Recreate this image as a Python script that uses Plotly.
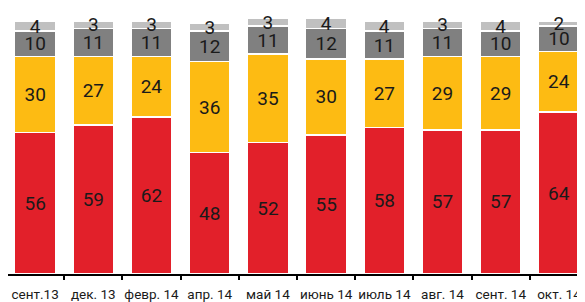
import plotly.graph_objects as go

categories = ["сент.13", "дек. 13", "февр. 14", "апр. 14", "май 14",
              "июнь 14", "июль 14", "авг. 14", "сент. 14", "окт. 14"]
red_vals = [56, 59, 62, 48, 52, 55, 58, 57, 57, 64]
orange_vals = [30, 27, 24, 36, 35, 30, 27, 29, 29, 24]
dgray_vals = [10, 11, 11, 12, 11, 12, 11, 11, 10, 10]
lgray_vals = [4, 3, 3, 3, 3, 4, 4, 3, 4, 2]

series = [
    (red_vals, "#E2202A"),
    (orange_vals, "#FDBB13"),
    (dgray_vals, "#808080"),
    (lgray_vals, "#C0C0C0"),
]

FONT = "Roboto, Noto Sans, sans-serif"

fig = go.Figure()
for vals, col in series:
    fig.add_trace(go.Bar(
        x=categories, y=vals,
        marker=dict(color=col, line=dict(color="white", width=1.5)),
        text=[str(v) for v in vals],
        textposition="inside",
        insidetextanchor="middle",
        textangle=0,
        constraintext="none",
        insidetextfont=dict(family=FONT, size=19, color="#1a1a1a"),
        cliponaxis=False,
        hoverinfo="skip",
    ))

fig.update_layout(
    barmode="stack",
    bargap=0.295,
    width=577, height=294,
    margin=dict(l=0, r=0, t=8, b=28),
    plot_bgcolor="white", paper_bgcolor="white",
    showlegend=False,
    xaxis=dict(
        range=[-0.466, 9.448],
        automargin=False,
        tickangle=0,
        showline=True, linecolor="#000", linewidth=1.5,
        ticks="outside", tickson="boundaries", ticklen=4, tickwidth=1.5, tickcolor="#000",
        ticklabelstandoff=7,
        tickfont=dict(family=FONT, size=13.5, color="#1a1a1a"),
        showgrid=False, zeroline=False,
    ),
    yaxis=dict(
        range=[0, 102], visible=False, showgrid=False, zeroline=False,
        automargin=False,
    ),
)

fig.write_html("out.html")
